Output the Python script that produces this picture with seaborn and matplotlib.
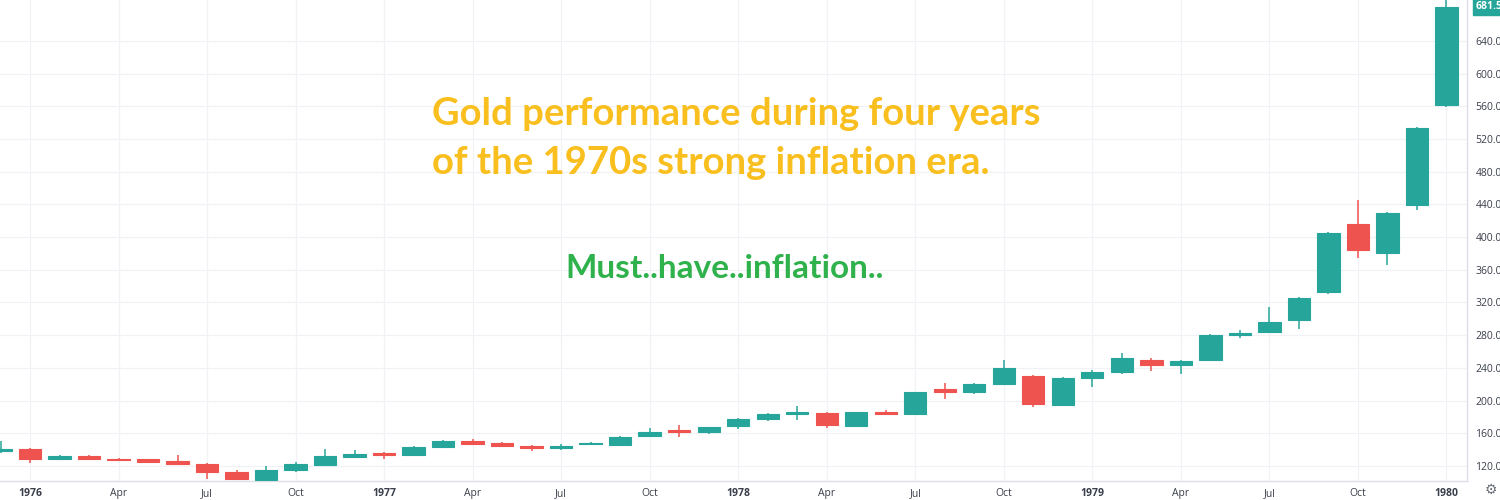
import numpy as np
import pandas as pd
import seaborn as sns
import matplotlib.pyplot as plt
import matplotlib.transforms as mtransforms

# monthly gold candles, Dec 1975 .. Jan 1980
months = pd.date_range("1975-12-01", periods=50, freq="MS")
opens = [138, 141, 129, 132, 129, 128, 126.5, 122, 113, 103, 115, 121, 131,
         136, 133, 143, 150, 148, 145, 142, 146.5, 146, 157, 164, 161,
         169, 178, 183.6, 185, 169, 186.5, 183.6, 214, 211, 220, 230, 195,
         228, 235, 250, 243, 250, 280, 284, 298, 333, 416, 381, 439, 562]
highs = [150, 142, 133, 133, 130, 129, 133, 124, 115, 120, 125, 141, 139,
         137, 144, 152, 153, 149, 146, 147, 149, 156.5, 166, 170, 168,
         179, 185, 193, 186, 186, 189, 211, 221, 222, 250, 231, 229,
         237, 258, 252, 250, 281, 286, 314, 327, 406, 445, 431, 535, 850]
lows = [136, 124, 128, 127, 126, 124, 122, 104, 103, 103, 113, 120, 130,
        128, 132, 142, 146, 143, 138, 140, 146, 145, 156, 155, 159,
        165, 175, 176, 167, 168, 182, 183, 202, 208, 219, 192, 194,
        216, 233, 236, 233, 248, 277, 283, 287, 330, 374, 366, 433, 559]
closes = [141, 128, 132, 128, 127, 125, 123, 113, 104, 115, 123, 132, 135,
          133, 143, 150, 147, 144, 142, 144.5, 148, 156, 162, 161, 167.5,
          178, 183.5, 186.5, 170, 185.5, 183.5, 210, 210, 220, 239.5, 196, 228,
          235, 252, 243, 249, 280, 283, 296, 326, 405, 384, 430, 534, 681.5]
price_ticks = list(range(120, 641, 40))
last_price = 681.5

up_col = "#26a69a"
down_col = "#ef5350"

df = pd.DataFrame({"date": months, "open": opens, "high": highs,
                   "low": lows, "close": closes})
df["pos"] = np.arange(len(df))
df["up"] = df["close"] >= df["open"]
df["color"] = np.where(df["up"], up_col, down_col)
df["bottom"] = df[["open", "close"]].min(axis=1)
df["height"] = (df["close"] - df["open"]).abs().clip(lower=1.2)

sns.set_theme(style="white")
plt.rcParams["font.family"] = ["Open Sans", "DejaVu Sans"]

fig = plt.figure(figsize=(15, 5), dpi=100)
ax = fig.add_axes([0, 0.038, 0.978, 0.962])

# wicks then bodies
ax.vlines(df["pos"], df["low"], df["high"], colors=df["color"], lw=1.1, zorder=2)
ax.bar(df["pos"], df["height"], bottom=df["bottom"], width=0.76,
       color=df["color"], edgecolor=df["color"], lw=0.8, zorder=3)

ax.set_xlim(-0.02, 49.7)
ax.set_ylim(101.6, 690)

# x ticks every quarter
qt = df[df["date"].dt.month.isin([1, 4, 7, 10])]
ax.set_xticks(qt["pos"])
ax.set_xticklabels([str(d.year) if d.month == 1 else d.strftime("%b")
                    for d in qt["date"]])
for lab, d in zip(ax.get_xticklabels(), qt["date"]):
    if d.month == 1:
        lab.set_fontweight("bold")

ax.yaxis.tick_right()
ax.set_yticks(price_ticks)
ax.set_yticklabels([f"{v:.2f}" for v in price_ticks])
ax.tick_params(axis="x", length=0, pad=5, labelsize=7.5, labelcolor="#3a3e4a")
ax.tick_params(axis="y", length=0, pad=6, labelsize=7.5, labelcolor="#3a3e4a")

ax.grid(True, color="#f0f2f5", lw=0.9, zorder=0)
for side in ["top", "left"]:
    ax.spines[side].set_visible(False)
ax.spines["bottom"].set_color("#dcdfe6")
ax.spines["right"].set_color("#dcdfe6")
ax.spines["bottom"].set_linewidth(1)
ax.spines["right"].set_linewidth(1)

# last price tag
trans = mtransforms.blended_transform_factory(ax.transAxes, ax.transData)
ax.text(1.006, last_price, f"{last_price:.2f}", transform=trans, ha="left",
        va="center", fontsize=7.5, color="white", fontweight="bold",
        bbox=dict(boxstyle="square,pad=0.25", fc=up_col, ec=up_col),
        clip_on=False)

fig.text(0.994, 0.02, "\u2699", ha="center", va="center", fontsize=10,
         color="#6a6d78", family=["DejaVu Sans"])

# annotations
fig.text(0.288, 0.772, "Gold performance during four years", color="#f9bf1e",
         fontsize=27.5, fontweight="bold", family=["Lato", "DejaVu Sans"],
         ha="left", va="center")
fig.text(0.288, 0.674, "of the 1970s strong inflation era.", color="#f9bf1e",
         fontsize=27.5, fontweight="bold", family=["Lato", "DejaVu Sans"],
         ha="left", va="center")
fig.text(0.3767, 0.464, "Must..have..inflation..", color="#2fb24c",
         fontsize=24, fontweight="bold", family=["Lato", "DejaVu Sans"],
         ha="left", va="center")

fig.savefig("out.png", dpi=100, facecolor="white")
